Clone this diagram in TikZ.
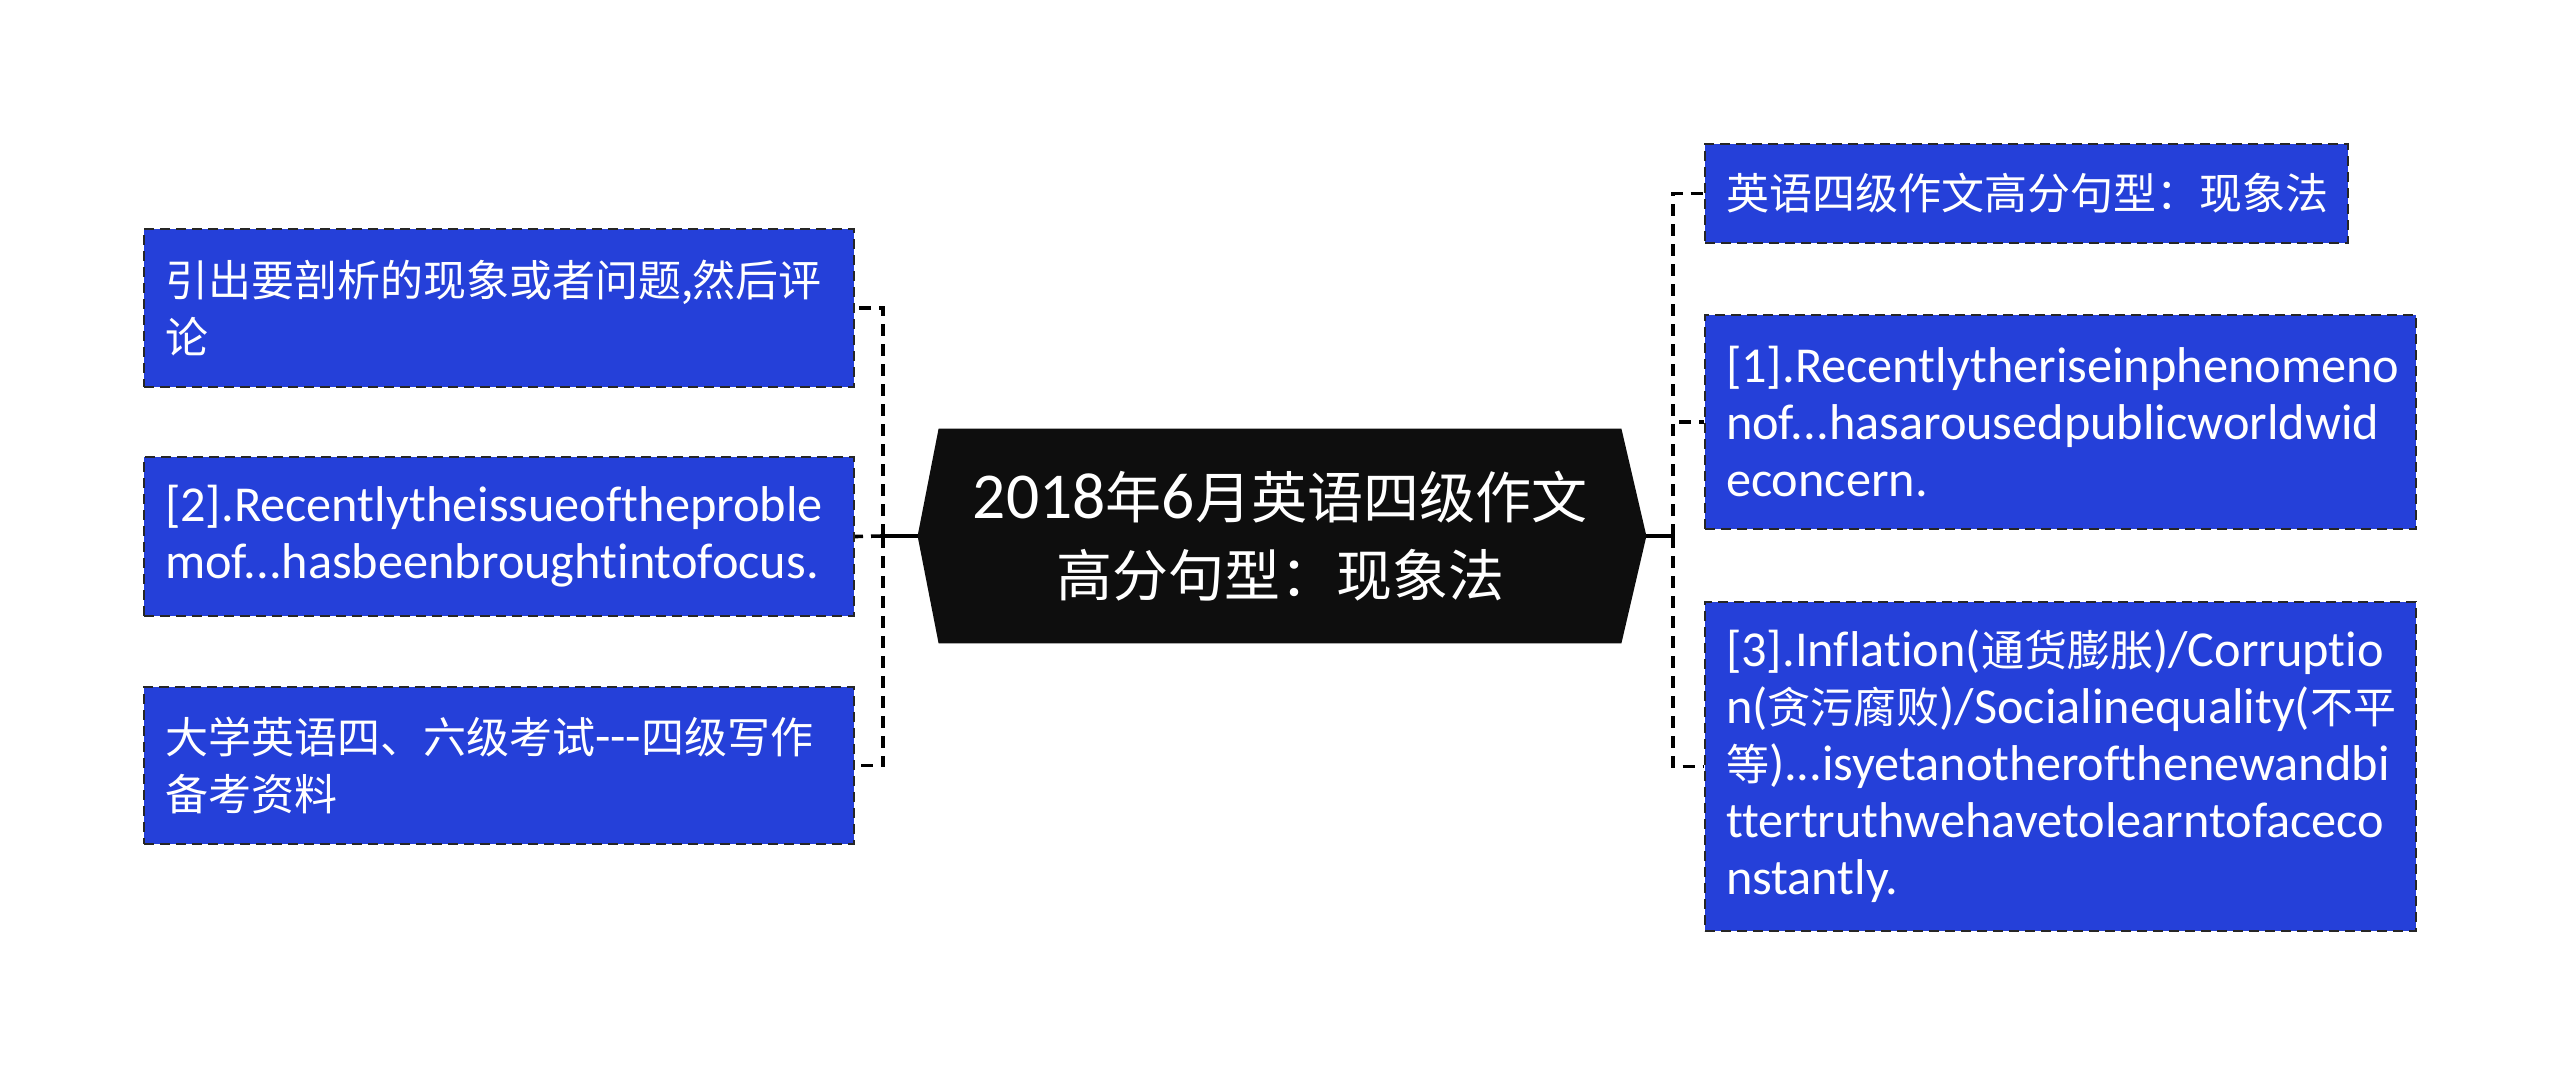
\documentclass[tikz,border=0pt]{standalone}
\usepackage{fontspec}
\setmainfont{Carlito}[Scale=1.17,Ligatures={NoCommon}]
\newfontfamily\cjk{Noto Sans CJK SC}
\usetikzlibrary{backgrounds}
\hyphenpenalty=10000
\exhyphenpenalty=10000
\definecolor{boxblue}{HTML}{2540D9}
\definecolor{rootblack}{HTML}{0E0E0E}
\tikzset{
  leaf/.style={draw=black!85, line width=1.1pt, dash pattern=on 5pt off 3pt, fill=boxblue, text=white, align=left, inner xsep=10.5pt, inner ysep=0pt, font=\fontsize{21.5pt}{28.5pt}\selectfont},
  conn/.style={line width=1.8pt, dash pattern=on 6pt off 4pt, draw=black},
  stub/.style={line width=1.8pt, draw=black},
  rootlabel/.style={text=white, align=center, font=\fontsize{28pt}{39pt}\selectfont, minimum width=341pt, minimum height=107pt, inner sep=0pt},
}
\begin{document}
\begin{tikzpicture}[x=0.5pt,y=-0.5pt]
\useasboundingbox (0,0) rectangle (2560,1075);
\begin{scope}[on background layer]
\fill[white] (0,0) rectangle (2560,1075);
\end{scope}

% root
\node[rootlabel] (root) at (1280,536) {2018{\cjk 年}6{\cjk 月英语四级作文}\\{\cjk 高分句型：现象法}};
\begin{scope}[on background layer]
\fill[rootblack] (root.north west) -- (root.north east) -- ([xshift=12.5pt]root.east) -- (root.south east) -- (root.south west) -- ([xshift=-10.5pt]root.west) -- cycle;
\end{scope}
\coordinate (rootL) at ([xshift=-10.5pt]root.west);
\coordinate (rootR) at ([xshift=12.5pt]root.east);
\coordinate (lbus) at (883,536);
\coordinate (rbus) at (1673,536);

% left leaves
\node[leaf, text width=334pt, minimum width=355pt, minimum height=79pt] (L1) at (499,308) {\cjk 引出要剖析的现象或者问题,然后评\\论};
\node[leaf, text width=334pt, minimum width=355pt, minimum height=79.5pt] (L2) at (499,536.5) {[2].Recentlytheissueoftheproble\\mof...hasbeenbroughtintofocus.};
\node[leaf, text width=334pt, minimum width=355pt, minimum height=78.5pt] (L3) at (499,765.5) {{\cjk 大学英语四、六级考试}-{}-{}-{\cjk 四级写作}\\{\cjk 备考资料}};

% right leaves
\node[leaf, text width=300.5pt, minimum width=321.5pt, minimum height=49.5pt] (R1) at (2026.5,193.5) {\cjk 英语四级作文高分句型：现象法};
\node[leaf, text width=334.5pt, minimum width=355.5pt, minimum height=107pt] (R2) at (2060.5,422) {[1].Recentlytheriseinphenomeno\\nof...hasarousedpublicworldwid\\econcern.};
\node[leaf, text width=334.5pt, minimum width=355.5pt, minimum height=164.5pt] (R3) at (2060.5,766.5) {[3].Inflation({\cjk 通货膨胀})/Corruptio\\n({\cjk 贪污腐败})/Socialinequality({\cjk 不平}\\{\cjk 等})...isyetanotherofthenewandbi\\ttertruthwehavetolearntofaceco\\nstantly.};

% connectors left
\draw[stub] (rootL) -- (lbus);
\draw[conn] (lbus) -- (lbus |- L1.east) -- (L1.east);
\draw[conn] (lbus) -- (L2.east);
\draw[conn] (lbus) -- (lbus |- L3.east) -- (L3.east);

% connectors right
\draw[stub] (rootR) -- (rbus);
\draw[conn] (rbus) -- (rbus |- R1.west) -- (R1.west);
\draw[conn] (rbus) -- (rbus |- R2.west) -- (R2.west);
\draw[conn] (rbus) -- (rbus |- R3.west) -- (R3.west);
\end{tikzpicture}
\end{document}
